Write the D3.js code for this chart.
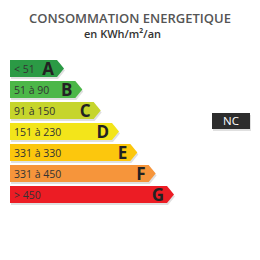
<!DOCTYPE html>
<html>
<head>
<meta charset="utf-8">
<script src="https://cdn.jsdelivr.net/npm/d3@7"></script>
<style>
  body { margin: 0; background: #fff; }
  svg { display: block; font-family: "Open Sans", sans-serif; }
</style>
</head>
<body>
<svg width="260" height="260"></svg>
<script>
const classes = ["A", "B", "C", "D", "E", "F", "G"]
const ranges = ["< 51", "51 à 90", "91 à 150", "151 à 230", "331 à 330", "331 à 450", "> 450"]
const colors = ["#2b9a45", "#4cb748", "#c6d52c", "#f3e51a", "#fcc70d", "#f6953b", "#ec1c24"]
const current = "NC"

var svg = d3.select("svg")

var y = d3.scaleBand()
    .domain(classes)
    .range([60, 203])
    .paddingInner(4 / 21)

// bar length grows with the class index
var len = d3.scaleLinear()
    .domain([0, classes.length - 1])
    .range([47, 157])

var tip = 7

svg.append("text")
    .attr("x", 130)
    .attr("y", 23)
    .attr("text-anchor", "middle")
    .style("font-size", "13px")
    .style("font-weight", 600)
    .style("fill", "#555")
    .text("CONSOMMATION ENERGETIQUE")

svg.append("text")
    .attr("x", 122.5)
    .attr("y", 38)
    .attr("text-anchor", "middle")
    .style("font-size", "11px")
    .style("font-weight", 600)
    .style("fill", "#333")
    .text("en KWh/m²/an")

function arrow(i) {
    var x0 = 10, w = len(i), y0 = y(classes[i]), h = y.bandwidth()
    return `M${x0},${y0}H${x0 + w}L${x0 + w + tip},${y0 + h / 2}L${x0 + w},${y0 + h}H${x0}Z`
}

var rows = svg.selectAll("g.row")
    .data(classes)
    .join("g")
    .attr("class", "row")

rows.append("path")
    .attr("d", (d, i) => arrow(i))
    .attr("transform", "translate(1,2)")
    .style("fill", "#000")
    .style("opacity", 0.12)

rows.append("path")
    .attr("d", (d, i) => arrow(i))
    .style("fill", (d, i) => colors[i])

rows.append("text")
    .attr("x", 14)
    .attr("y", d => y(d) + y.bandwidth() / 2 + 4)
    .style("font-size", "10.5px")
    .style("fill", "#333")
    .text((d, i) => ranges[i])

rows.append("text")
    .attr("x", (d, i) => 10 + len(i) - 3)
    .attr("y", d => y(d) + y.bandwidth() / 2 + 6.5)
    .attr("text-anchor", "end")
    .style("font-size", "17px")
    .style("font-weight", 700)
    .style("fill", "#222")
    .text(d => d)

svg.append("rect")
    .attr("x", 212)
    .attr("y", 113)
    .attr("width", 38)
    .attr("height", 16)
    .attr("transform", "translate(1,2)")
    .style("fill", "#000")
    .style("opacity", 0.12)

svg.append("rect")
    .attr("x", 212)
    .attr("y", 113)
    .attr("width", 38)
    .attr("height", 16)
    .style("fill", "#2d2d2d")

svg.append("text")
    .attr("x", 231)
    .attr("y", 125)
    .attr("text-anchor", "middle")
    .style("font-size", "11.5px")
    .style("fill", "#fff")
    .text(current)
</script>
</body>
</html>
